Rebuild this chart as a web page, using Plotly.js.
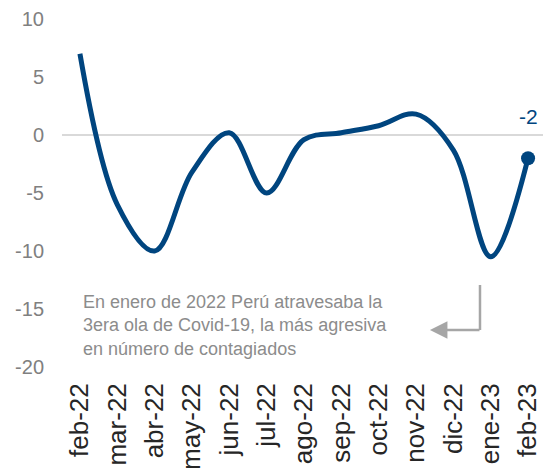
<!DOCTYPE html>
<html>
<head>
<meta charset="utf-8">
<script src="https://cdn.plot.ly/plotly-3.0.1.min.js"></script>
<style>html,body{margin:0;padding:0;background:#fff;}#chart{width:543px;height:468px;}</style>
</head>
<body>
<div id="chart"></div>
<script>
const months = ["feb-22","mar-22","abr-22","may-22","jun-22","jul-22","ago-22","sep-22","oct-22","nov-22","dic-22","ene-23","feb-23"];
const values = [7.0, -6.0, -10.0, -3.2, 0.2, -5.0, -0.4, 0.2, 0.8, 1.8, -1.3, -10.5, -2.0];
const yTicks = [-20, -15, -10, -5, 0, 5, 10];
const yTickLabels = ["-20", "-15", "-10", "-5", "0", "5", "10"];
const noteText = "En enero de 2022 Perú atravesaba la<br>3era ola de Covid-19, la más agresiva<br>en número de contagiados";

const lineColor = "#00457f";
const lastIdx = values.length - 1;

const traces = [
  {
    x: months, y: values, type: "scatter", mode: "lines",
    line: {color: lineColor, width: 5, shape: "spline", smoothing: 1},
    hoverinfo: "skip"
  },
  {
    x: [months[lastIdx]], y: [values[lastIdx]], type: "scatter", mode: "markers",
    marker: {color: lineColor, size: 14},
    hoverinfo: "skip"
  }
];

const layout = {
  width: 543, height: 468,
  margin: {l: 62, r: 0, t: 19, b: 101},
  paper_bgcolor: "#ffffff", plot_bgcolor: "#ffffff",
  showlegend: false,
  font: {family: "Liberation Sans, Arial, sans-serif"},
  xaxis: {
    type: "category", categoryarray: months,
    range: [-0.48, 12.4],
    showgrid: false, zeroline: false, showline: false,
    ticks: "", tickangle: -90,
    tickfont: {size: 26, color: "#262626"},
    ticklabelstandoff: 10
  },
  yaxis: {
    range: [-20, 10], tickvals: yTicks, ticktext: yTickLabels,
    showgrid: false, showline: false,
    zeroline: true, zerolinecolor: "#d9d9d9", zerolinewidth: 1.5,
    ticks: "",
    tickfont: {size: 20, color: "#808080"},
    ticklabelstandoff: 17
  },
  shapes: [
    {type: "line", xref: "paper", yref: "paper", x0: 0.869, x1: 0.869, y0: 0.2356, y1: 0.1063,
     line: {color: "#a6a6a6", width: 2.5}}
  ],
  annotations: [
    {xref: "x", yref: "y", x: months[lastIdx], y: values[lastIdx], text: String(values[lastIdx]),
     showarrow: false, yshift: 42, font: {size: 21, color: lineColor}},
    {xref: "paper", yref: "paper", x: 0.04, y: 0.12, xanchor: "left", yanchor: "middle", align: "left",
     text: noteText, showarrow: false, font: {size: 18, color: "#8c8c8c"}},
    {xref: "paper", yref: "paper", x: 0.765, y: 0.1063, text: "", showarrow: true,
     ax: 51, ay: 0, arrowhead: 2, arrowsize: 1.4, arrowwidth: 2.5, arrowcolor: "#a6a6a6"}
  ]
};

Plotly.newPlot("chart", traces, layout, {staticPlot: true});
</script>
</body>
</html>
